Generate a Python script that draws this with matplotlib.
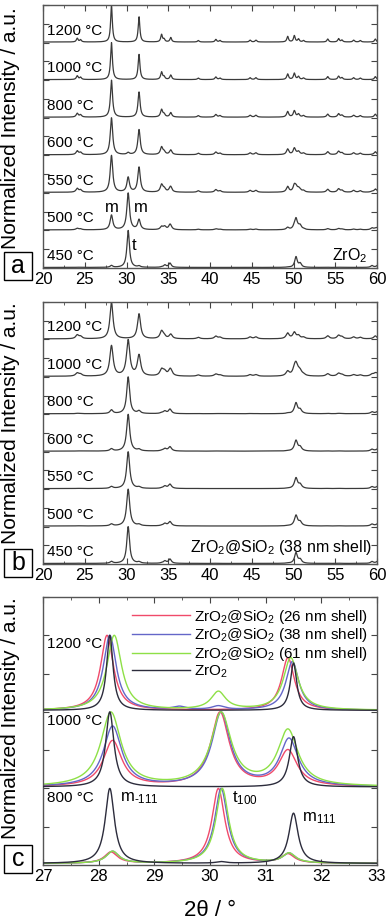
import matplotlib
matplotlib.use('Agg')
import matplotlib.pyplot as plt
from matplotlib.patches import Rectangle
from matplotlib.ticker import MultipleLocator
import numpy as np

plt.rcParams['font.family'] = ['Liberation Sans', 'DejaVu Sans']
plt.rcParams['mathtext.fontset'] = 'custom'
plt.rcParams['mathtext.rm'] = 'Liberation Sans'
plt.rcParams['mathtext.it'] = 'Liberation Sans:italic'
plt.rcParams['mathtext.bf'] = 'Liberation Sans:bold'

# ── temperatures for panels a, b (bottom -> top) ──
temps_ab = ['450 °C', '500 °C', '550 °C', '600 °C', '800 °C', '1000 °C', '1200 °C']

# monoclinic ZrO2 reflections (2θ) and relative heights
m_pos = [24.1, 24.5, 28.2, 31.5, 34.2, 34.5, 35.3, 38.6, 40.7, 41.2, 44.8, 45.5,
         49.3, 50.1, 50.6, 51.2, 54.1, 55.4, 55.8, 57.2, 58.0, 59.8]
m_rel = [0.10, 0.06, 1.00, 0.68, 0.20, 0.07, 0.12, 0.04, 0.07, 0.04, 0.05, 0.05,
         0.15, 0.17, 0.08, 0.04, 0.08, 0.09, 0.05, 0.05, 0.04, 0.08]
# tetragonal ZrO2 reflections
t_pos = [30.2, 34.6, 35.2, 50.3, 50.8, 59.4, 60.1]
t_rel = [1.00, 0.06, 0.11, 0.28, 0.10, 0.05, 0.06]

# panel a (ZrO2): phase weights and peak half widths
a_m_weight = [0.05, 0.40, 1.00, 1.00, 1.00, 1.00, 1.00]
a_t_weight = [1.00, 1.00, 0.40, 0.05, 0.00, 0.00, 0.00]
a_hwhm = [0.18, 0.19, 0.18, 0.17, 0.15, 0.13, 0.12]

# panel b (ZrO2@SiO2, 38 nm shell)
b_m_weight = [0.05, 0.05, 0.05, 0.06, 0.10, 0.85, 1.00]
b_t_weight = [1.00, 1.00, 1.00, 1.00, 1.00, 1.00, 0.00]
b_hwhm = [0.20, 0.22, 0.22, 0.22, 0.21, 0.24, 0.22]

# ── panel c: zoom 27-33°, rows = 800, 1000, 1200 °C ──
c_temps = ['800 °C', '1000 °C', '1200 °C']
c_names = ['ZrO$_2$@SiO$_2$ (26 nm shell)', 'ZrO$_2$@SiO$_2$ (38 nm shell)',
           'ZrO$_2$@SiO$_2$ (61 nm shell)', 'ZrO$_2$']
c_colors = ['#f04a6a', '#6466c8', '#8ee046', '#2c2c3c']

c_pos_26 = [[28.22, 29.45, 30.15, 31.40], [28.25, 29.45, 30.18, 31.40], [28.15, 29.45, 30.15, 31.40]]
c_hgt_26 = [[0.15, 0.00, 1.00, 0.12], [0.62, 0.00, 1.00, 0.48], [1.00, 0.00, 0.00, 0.70]]
c_hw_26 = [0.14, 0.20, 0.14]

c_pos_38 = [[28.25, 29.45, 30.20, 31.42], [28.25, 29.45, 30.20, 31.42], [28.20, 29.45, 30.15, 31.48]]
c_hgt_38 = [[0.16, 0.00, 1.00, 0.13], [0.82, 0.00, 1.00, 0.64], [1.00, 0.04, 0.05, 0.65]]
c_hw_38 = [0.14, 0.20, 0.14]

c_pos_61 = [[28.25, 29.45, 30.22, 31.42], [28.22, 29.45, 30.20, 31.40], [28.28, 29.45, 30.15, 31.45]]
c_hgt_61 = [[0.16, 0.00, 1.00, 0.13], [1.00, 0.00, 0.98, 0.75], [1.00, 0.00, 0.24, 0.70]]
c_hw_61 = [0.14, 0.22, 0.16]

c_pos_zr = [[28.20, 29.45, 30.20, 31.50], [28.20, 29.45, 30.20, 31.50], [28.20, 29.45, 30.20, 31.50]]
c_hgt_zr = [[1.00, 0.00, 0.02, 0.67], [1.00, 0.00, 0.00, 0.67], [1.00, 0.00, 0.00, 0.63]]
c_hw_zr = [0.10, 0.09, 0.07]


def pattern(x, pos, hgt, hw, bg=0.02):
    y = np.full_like(x, bg)
    for p, h in zip(pos, hgt):
        y += h / (1 + ((x - p) / hw) ** 2)
    return y / y.max()


def style_axes(ax):
    ax.tick_params(which='both', direction='in', top=True, right=True,
                   labelleft=False, labelsize=12, pad=3, color='#444444')
    ax.tick_params(which='major', length=4.5)
    ax.tick_params(which='minor', length=2.5)
    for s in ax.spines.values():
        s.set_color('#555555')
        s.set_linewidth(1.0)


W, H = 387, 921
fig = plt.figure(figsize=(W / 100, H / 100), dpi=100, facecolor='white')


def add_axes(top, bottom):
    return fig.add_axes([43 / W, 1 - bottom / H, 334 / W, (bottom - top) / H])


ax_a = add_axes(5, 268)
ax_b = add_axes(302, 564)
ax_c = add_axes(597, 865)

x_wide = np.linspace(20, 60, 4001)

# ── panels a and b ──
for ax, mw, tw, hws in [(ax_a, a_m_weight, a_t_weight, a_hwhm),
                        (ax_b, b_m_weight, b_t_weight, b_hwhm)]:
    for i, label in enumerate(temps_ab):
        pos = m_pos + t_pos
        hgt = [mw[i] * h for h in m_rel] + [tw[i] * h for h in t_rel]
        y = pattern(x_wide, pos, hgt, hws[i], bg=0.015)
        ax.plot(x_wide, y + i, color='#3a3a3a', lw=0.9)
        ax.text(20.45, i + 0.32, label, fontsize=11, va='center', ha='left')
    ax.set_xlim(20, 60)
    ax.set_ylim(0, 7)
    ax.xaxis.set_major_locator(MultipleLocator(5))
    ax.xaxis.set_minor_locator(MultipleLocator(2.5))
    ax.yaxis.set_major_locator(MultipleLocator(0.5))
    style_axes(ax)

ax_a.text(28.2, 1.6, 'm', fontsize=12, ha='center', va='center')
ax_a.text(31.7, 1.6, 'm', fontsize=12, ha='center', va='center')
ax_a.text(30.95, 0.6, 't', fontsize=12, ha='center', va='center')
ax_a.text(56.7, 0.34, 'ZrO$_2$', fontsize=11.5, ha='center', va='center')
ax_b.text(59.4, 0.45, 'ZrO$_2$@SiO$_2$ (38 nm shell)', fontsize=11.5, ha='right', va='center')

# ── panel c ──
x_c = np.linspace(27, 33, 3001)
series = [(c_pos_26, c_hgt_26, c_hw_26), (c_pos_38, c_hgt_38, c_hw_38),
          (c_pos_61, c_hgt_61, c_hw_61), (c_pos_zr, c_hgt_zr, c_hw_zr)]
for j, (label, color) in enumerate(zip(c_names, c_colors)):
    pos, hgt, hw = series[j]
    for i in range(len(c_temps)):
        y = pattern(x_c, pos[i], hgt[i], hw[i])
        ax_c.plot(x_c, y + i, color=color, lw=1.0,
                  label=label if i == 0 else None, zorder=3 if j == 3 else 2)
for i, t in enumerate(c_temps):
    ax_c.text(27.07, i + 0.88, t, fontsize=11, va='center', ha='left')

ax_c.text(28.38, 0.87, 'm$_{\u2010111}$', fontsize=12, ha='left', va='center')
ax_c.text(30.39, 0.87, 't$_{100}$', fontsize=12, ha='left', va='center')
ax_c.text(31.65, 0.61, 'm$_{111}$', fontsize=12, ha='left', va='center')

ax_c.set_xlim(27, 33)
ax_c.set_ylim(0, 3.5)
ax_c.xaxis.set_major_locator(MultipleLocator(1))
ax_c.xaxis.set_minor_locator(MultipleLocator(0.5))
ax_c.yaxis.set_major_locator(MultipleLocator(0.5))
style_axes(ax_c)
ax_c.legend(loc='upper right', frameon=False, fontsize=11, handlelength=3.8,
            handletextpad=0.25, labelspacing=0.05, borderaxespad=0.2,
            bbox_to_anchor=(1.0, 0.995))

# ── y labels and panel letters ──
for ax, ymid, letter, box_top in [(ax_a, 128, 'a', 252),
                                  (ax_b, 423, 'b', 549),
                                  (ax_c, 718, 'c', 845)]:
    fig.text(11 / W, 1 - ymid / H, 'Normalized Intensity / a.u.',
             rotation=90, fontsize=15, ha='center', va='center')
    fig.patches.append(Rectangle((4 / W, 1 - (box_top + 28) / H), 28 / W, 28 / H,
                                 transform=fig.transFigure, fc='white', ec='black',
                                 lw=1.0, zorder=5))
    fig.text(18 / W, 1 - (box_top + 14) / H, letter, fontsize=18,
             ha='center', va='center', zorder=6)

fig.text(210 / W, 1 - 910 / H, '2θ / °', fontsize=16, ha='center', va='center')

fig.savefig('out.png', dpi=100, facecolor='white')
